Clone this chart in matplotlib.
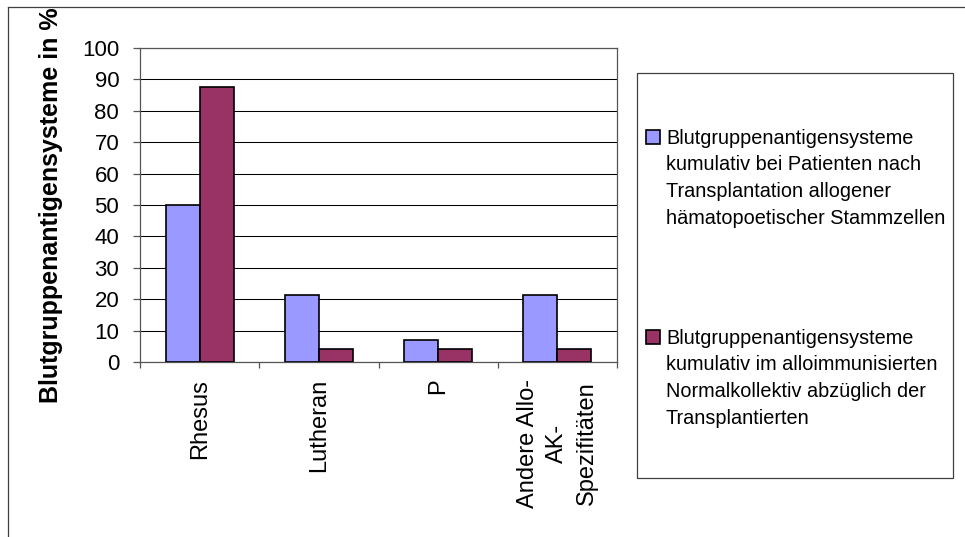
import matplotlib
matplotlib.use("Agg")
import matplotlib.pyplot as plt
import numpy as np
from matplotlib.patches import Rectangle
from matplotlib.lines import Line2D

plt.rcParams["font.family"] = ["Liberation Sans", "DejaVu Sans"]

# Anteil der Blutgruppenantigensysteme in %
categories = ["Rhesus", "Lutheran", "P", "Andere Allo-\nAK-\nSpezifitäten"]
patients_tx = [50.0, 21.4, 7.1, 21.4]
normal_collective = [87.5, 4.2, 4.2, 4.2]
series_labels = [
    "Blutgruppenantigensysteme\nkumulativ bei Patienten nach\nTransplantation allogener\nhämatopoetischer Stammzellen",
    "Blutgruppenantigensysteme\nkumulativ im alloimmunisierten\nNormalkollektiv abzüglich der\nTransplantierten",
]
colors = ["#9999FF", "#993366"]

W, H = 965, 537
fig = plt.figure(figsize=(W / 100, H / 100), dpi=100)

def fx(px):
    return px / W

def fy(py):
    return 1 - py / H

ax = fig.add_axes([fx(140), fy(362), fx(617) - fx(140), fy(48) - fy(362)])

x = np.arange(len(categories))
w = 1 / 3.5
ax.bar(x - w / 2, patients_tx, w, color=colors[0], edgecolor="black", linewidth=1.2, zorder=3)
ax.bar(x + w / 2, normal_collective, w, color=colors[1], edgecolor="black", linewidth=1.2, zorder=3)

ax.set_xlim(-0.5, len(categories) - 0.5)
ax.set_ylim(0, 100)
ax.set_yticks(np.arange(0, 101, 10))
ax.yaxis.grid(True, color="black", linewidth=0.75)
ax.set_axisbelow(True)

for s in ax.spines.values():
    s.set_color("#555555")
    s.set_linewidth(0.9)

ax.tick_params(axis="y", direction="out", length=5, width=0.9, color="#555555",
               pad=10, labelsize=16)
ax.set_xticks(x)
ax.set_xticklabels(categories, rotation=90, fontsize=17, linespacing=1.42)
for t in ax.get_xticklabels():
    t.set_multialignment("center")
ax.tick_params(axis="x", which="major", length=0, pad=12)
ax.set_xticks(np.arange(-0.5, len(categories), 1), minor=True)
ax.tick_params(axis="x", which="minor", direction="out", length=4.3, width=0.9, color="#555555")

ax.set_ylabel("Blutgruppenantigensysteme in %", fontsize=18, fontweight="bold")
ax.yaxis.set_label_coords(-0.162, 0.5)

# Legende mit Rahmen
fig.add_artist(Rectangle((fx(637), fy(478)), fx(953) - fx(637), fy(73) - fy(478),
                         transform=fig.transFigure, fill=False, edgecolor="#404040", linewidth=0.9))
for label, color, top in zip(series_labels, colors, [129, 329]):
    fig.add_artist(Rectangle((fx(646), fy(top + 14.5)), fx(14), 14 / H,
                             transform=fig.transFigure, facecolor=color,
                             edgecolor="black", linewidth=1.2))
    fig.text(fx(666), fy(top), label, fontsize=14.3, va="top", ha="left", linespacing=1.5)

# Außenrahmen des Diagramms
fig.add_artist(Line2D([fx(8), 1], [fy(7), fy(7)], transform=fig.transFigure, color="#404040", linewidth=0.9))
fig.add_artist(Line2D([fx(8), fx(8)], [fy(7), 0], transform=fig.transFigure, color="#404040", linewidth=0.9))

fig.savefig("out.png", dpi=100)
